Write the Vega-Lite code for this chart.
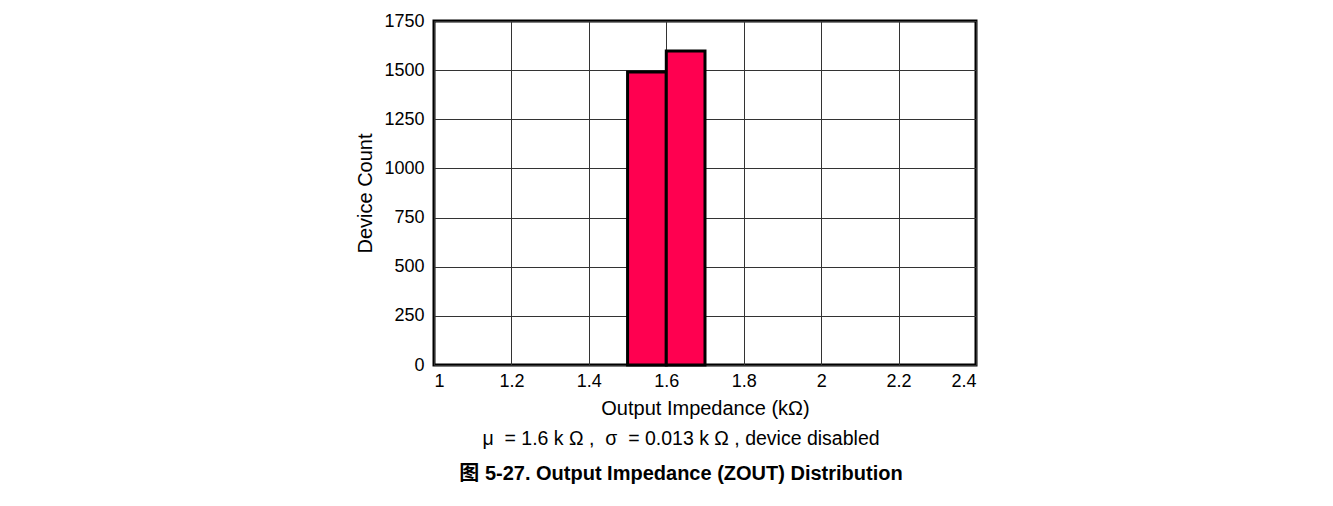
{
  "$schema": "https://vega.github.io/schema/vega-lite/v6.json",
  "width": 542,
  "height": 344,
  "autosize": {"type": "none"},
  "padding": {"left": 434, "top": 21, "right": 357, "bottom": 141},
  "background": "white",
  "data": {
    "values": [
      {"lo": 1.5, "hi": 1.6, "count": 1490},
      {"lo": 1.6, "hi": 1.7, "count": 1597}
    ]
  },
  "title": {
    "text": "μ\u00a0\u00a0= 1.6 k\u00a0Ω\u00a0,\u00a0\u00a0σ\u00a0\u00a0= 0.013 k\u00a0Ω\u00a0, device disabled",
    "subtitle": "图 5-27. Output Impedance (ZOUT) Distribution",
    "orient": "bottom",
    "anchor": "middle",
    "dx": -24,
    "offset": 12,
    "font": "Liberation Sans, Noto Sans CJK SC",
    "fontSize": 19.5,
    "fontWeight": "normal",
    "color": "#000000",
    "subtitleFont": "Liberation Sans, Noto Sans CJK SC",
    "subtitleFontSize": 20,
    "subtitleFontWeight": "bold",
    "subtitleColor": "#000000",
    "subtitlePadding": 14
  },
  "mark": {"type": "rect", "fill": "#ff0050", "stroke": "#000000", "strokeWidth": 3},
  "encoding": {
    "x": {
      "field": "lo",
      "type": "quantitative",
      "scale": {"domain": [1, 2.4], "nice": false, "zero": false},
      "axis": {
        "title": "Output Impedance (kΩ)",
        "values": [1, 1.2, 1.4, 1.6, 1.8, 2, 2.2, 2.4],
        "format": "~g",
        "grid": true,
        "gridColor": "#333333",
        "gridWidth": 1,
        "gridOpacity": 1,
        "domain": false,
        "ticks": false,
        "labelPadding": 7,
        "titlePadding": 8
      }
    },
    "x2": {"field": "hi"},
    "y": {
      "field": "count",
      "type": "quantitative",
      "scale": {"domain": [0, 1750], "nice": false},
      "axis": {
        "title": "Device Count",
        "values": [0, 250, 500, 750, 1000, 1250, 1500, 1750],
        "format": "d",
        "grid": true,
        "gridColor": "#333333",
        "gridWidth": 1,
        "gridOpacity": 1,
        "domain": false,
        "ticks": false,
        "labelPadding": 10,
        "titlePadding": 8
      }
    },
    "y2": {"datum": 0}
  },
  "config": {
    "view": {"stroke": "#000000", "strokeWidth": 3},
    "axis": {
      "labelFont": "Liberation Sans",
      "labelFontSize": 18,
      "labelColor": "#000000",
      "titleFont": "Liberation Sans",
      "titleFontSize": 20,
      "titleFontWeight": "normal",
      "titleColor": "#000000"
    }
  }
}
